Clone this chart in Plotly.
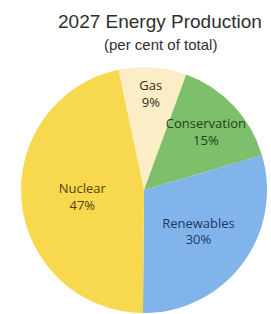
import plotly.graph_objects as go

labels = ["Gas", "Conservation", "Renewables", "Nuclear"]
values = [9, 15, 30, 47]
colors = ["#FBEEC6", "#7DBF6A", "#80B4EA", "#F8D84E"]
text_colors = ["#33291a", "#1c441c", "#1c3864", "#54440e"]
title_text = "2027 Energy Production"
subtitle_text = "(per cent of total)"

W, H = 271, 314

fig = go.Figure(
    go.Pie(
        labels=labels,
        values=values,
        sort=False,
        direction="clockwise",
        rotation=-12,
        marker=dict(colors=colors, line=dict(width=0)),
        texttemplate="%{label}<br>%{value}%",
        textposition="inside",
        insidetextorientation="horizontal",
        textfont=dict(family="Open Sans", size=13, color=text_colors),
        hoverinfo="label+value",
        showlegend=False,
        domain=dict(x=[21 / W, 267 / W], y=[1 - 313 / H, 1 - 67 / H]),
    )
)

fig.update_layout(
    width=W,
    height=H,
    margin=dict(l=0, r=0, t=0, b=0),
    paper_bgcolor="white",
    uniformtext=dict(mode="show", minsize=13),
    annotations=[
        dict(
            text=title_text,
            x=160 / W, y=1 - 22 / H, xref="paper", yref="paper",
            xanchor="center", yanchor="middle", showarrow=False,
            font=dict(family="Liberation Sans", size=19, color="#2f2f2f"),
        ),
        dict(
            text=subtitle_text,
            x=161 / W, y=1 - 45 / H, xref="paper", yref="paper",
            xanchor="center", yanchor="middle", showarrow=False,
            font=dict(family="Liberation Sans", size=15, color="#2f2f2f"),
        ),
    ],
)

fig.write_html(
    "out.html",
    config={"displayModeBar": False},
    post_script="document.body.style.margin='0';document.body.style.overflow='hidden';",
)
